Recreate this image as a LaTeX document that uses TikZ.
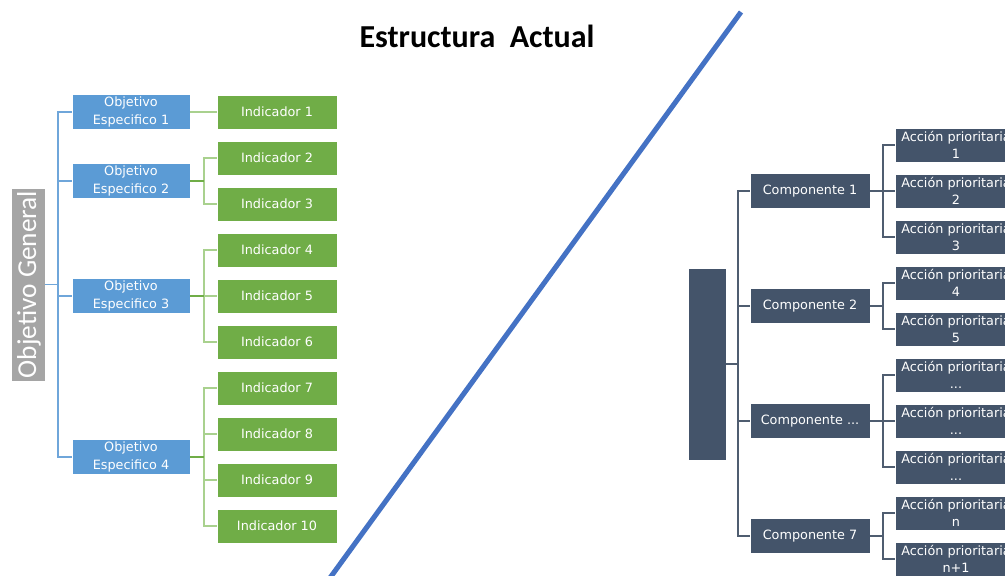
\documentclass[tikz,border=0pt]{standalone}
\usepackage{fontspec}
\setmainfont{DejaVu Sans}
\newfontfamily\titlefont{Carlito}
\definecolor{objblue}{HTML}{5B9BD5}
\definecolor{lineblue}{HTML}{6FA6DA}
\definecolor{indgreen}{HTML}{70AD47}
\definecolor{lightgreen}{HTML}{A9D18E}
\definecolor{genGray}{HTML}{A5A5A5}
\definecolor{slate}{HTML}{44546A}
\definecolor{slateline}{HTML}{4F5D70}
\definecolor{diag}{HTML}{4472C4}
\tikzset{
  cell/.style={rectangle, draw=white, line width=0.5pt, inner sep=0pt, text=white,
    align=center, font=\fontsize{9.6}{13}\selectfont},
  objbox/.style={cell, fill=objblue, minimum width=88.5pt, minimum height=26.25pt},
  indbox/.style={cell, fill=indgreen, minimum width=90pt, minimum height=25.5pt},
  compbox/.style={cell, fill=slate, minimum width=90pt, minimum height=26.25pt},
  accbox/.style={cell, fill=slate, minimum width=91.5pt, minimum height=25.5pt},
  bline/.style={draw=lineblue, line width=1.3pt},
  gstub/.style={draw=indgreen, line width=1.3pt},
  gline/.style={draw=lightgreen, line width=1.3pt},
  sline/.style={draw=slateline, line width=1.3pt},
}
\begin{document}
\begin{tikzpicture}[x=0.75pt,y=-0.75pt]
\useasboundingbox (0,0) rectangle (1005,575);
\clip (0,0) rectangle (1005,575);

% title
\node[anchor=base, font=\titlefont\bfseries\fontsize{24}{28}\selectfont, text=black] (title) at (477,47) {Estructura\ \ Actual};

% diagonal separator
\coordinate (d1) at (741,12);
\coordinate (d2) at (327,582);
\draw[draw=diag, line width=3.8pt] (d1) -- (d2);

% ---------- left tree ----------
\node[cell, fill=genGray, minimum width=25.5pt, minimum height=144.75pt] (g) at (28,284.5) {};
\node[text=white, rotate=90, font=\titlefont\fontsize{20.5}{24}\selectfont, inner sep=0pt] (gt) at (29,284.5) {Objetivo General};

\node[objbox] (o1) at (131,112) {Objetivo\\Especifico 1};
\node[objbox] (o2) at (131,181) {Objetivo\\Especifico 2};
\node[objbox] (o3) at (131,296) {Objetivo\\Especifico 3};
\node[objbox] (o4) at (131,457) {Objetivo\\Especifico 4};

\node[indbox] (i1) at (277,112) {Indicador 1};
\node[indbox] (i2) at (277,158) {Indicador 2};
\node[indbox] (i3) at (277,204) {Indicador 3};
\node[indbox] (i4) at (277,250) {Indicador 4};
\node[indbox] (i5) at (277,296) {Indicador 5};
\node[indbox] (i6) at (277,342) {Indicador 6};
\node[indbox] (i7) at (277,388) {Indicador 7};
\node[indbox] (i8) at (277,434) {Indicador 8};
\node[indbox] (i9) at (277,480) {Indicador 9};
\node[indbox] (i10) at (277,526) {Indicador 10};

\draw[bline] (o1.west) -- ++(-14,0) |- (o4.west);
\draw[bline] (o2.west) -- ++(-14,0);
\draw[bline] (o3.west) -- ++(-14,0);
\draw[bline] (g.east) -- ++(13,0);

\draw[gline] (o1.east) -- (i1.west);
\draw[gline] (i2.west) -- ++(-13,0) |- (i3.west);
\draw[gstub] (o2.east) -- ++(14,0);
\draw[gline] (i4.west) -- ++(-13,0) |- (i6.west);
\draw[gline] (i5.west) -- ++(-13,0);
\draw[gstub] (o3.east) -- ++(14,0);
\draw[gline] (i7.west) -- ++(-13,0) |- (i10.west);
\draw[gline] (i8.west) -- ++(-13,0);
\draw[gline] (i9.west) -- ++(-13,0);
\draw[gstub] (o4.east) -- ++(14,0);

% ---------- right tree ----------
\node[cell, fill=slate, minimum width=28.5pt, minimum height=144pt] (r) at (707,364) {};

\node[compbox] (c1) at (810,191) {Componente 1};
\node[compbox] (c2) at (810,306) {Componente 2};
\node[compbox] (c3) at (810,421) {Componente ...};
\node[compbox] (c4) at (810,536) {Componente 7};

\node[accbox] (a1) at (956,145) {Acción prioritaria\\1};
\node[accbox] (a2) at (956,191) {Acción prioritaria\\2};
\node[accbox] (a3) at (956,237) {Acción prioritaria\\3};
\node[accbox] (a4) at (956,283) {Acción prioritaria\\4};
\node[accbox] (a5) at (956,329) {Acción prioritaria\\5};
\node[accbox] (a6) at (956,375) {Acción prioritaria\\...};
\node[accbox] (a7) at (956,421) {Acción prioritaria\\...};
\node[accbox] (a8) at (956,467) {Acción prioritaria\\...};
\node[accbox] (a9) at (956,513) {Acción prioritaria\\n};
\node[accbox] (a10) at (956,559) {Acción prioritaria\\n+1};

\draw[sline] (c1.west) -- ++(-12,0) |- (c4.west);
\draw[sline] (c2.west) -- ++(-12,0);
\draw[sline] (c3.west) -- ++(-12,0);
\draw[sline] (r.east) -- ++(12,0);

\draw[sline] (a1.west) -- ++(-12,0) |- (a3.west);
\draw[sline] (c1.east) -- (a2.west);
\draw[sline] (a4.west) -- ++(-12,0) |- (a5.west);
\draw[sline] (c2.east) -- ++(13,0);
\draw[sline] (a6.west) -- ++(-12,0) |- (a8.west);
\draw[sline] (c3.east) -- (a7.west);
\draw[sline] (a9.west) -- ++(-12,0) |- (a10.west);
\draw[sline] (c4.east) -- ++(13,0);
\end{tikzpicture}
\end{document}
